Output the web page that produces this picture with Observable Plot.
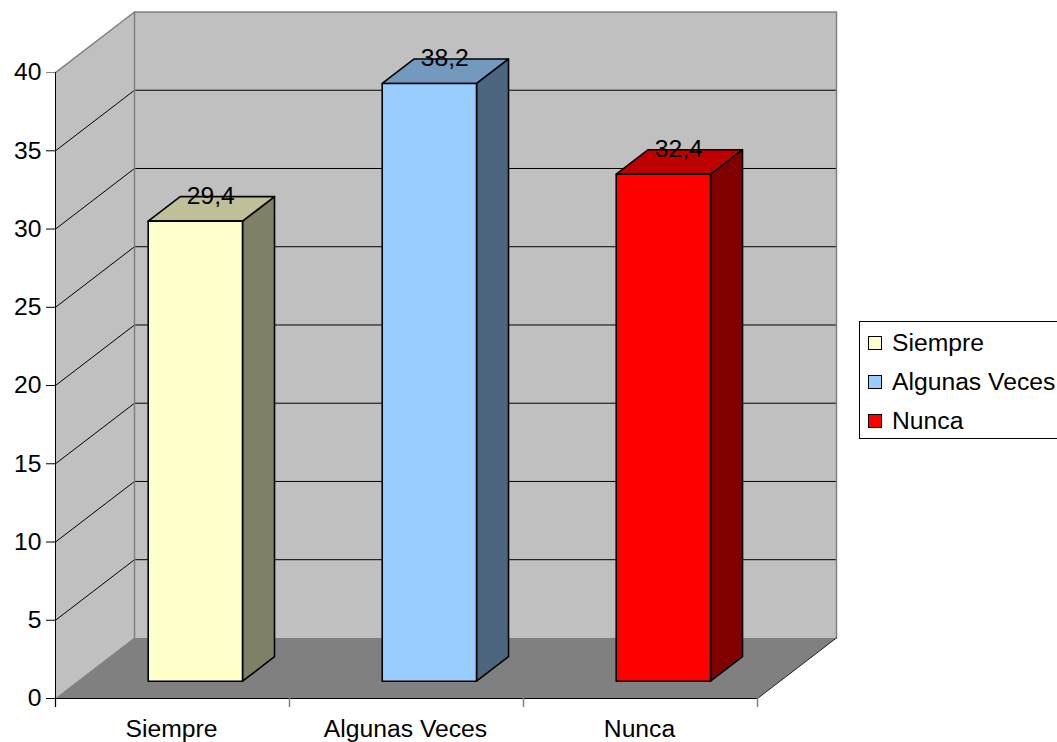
<!DOCTYPE html>
<html>
<head>
<meta charset="utf-8">
<script src="https://cdn.jsdelivr.net/npm/d3@7"></script>
<script src="https://cdn.jsdelivr.net/npm/@observablehq/plot@0.6"></script>
<style>
html,body{margin:0;padding:0;background:#fff;overflow:hidden;width:1057px;height:742px}
#wrap{position:relative;width:1057px;height:742px;overflow:hidden;font-family:"Liberation Sans",Arial,sans-serif;color:#000}
#wrap svg{display:block;position:absolute;left:0;top:0}
#legend{position:absolute;left:859px;top:321px;width:210px;height:116px;background:#fff;border:1px solid #000;box-sizing:content-box}
.row{position:absolute;left:8px;height:30px;line-height:30px;font-size:24.7px;white-space:nowrap}
.sw{position:absolute;left:0;top:8px;width:11.5px;height:11.5px;border:1.6px solid #000}
.lab{position:absolute;left:24px;top:0}
</style>
</head>
<body>
<div id="wrap"></div>
<script>
const categories = ["Siempre", "Algunas Veces", "Nunca"];
const values = [29.4, 38.2, 32.4];
const valueLabels = ["29,4", "38,2", "32,4"];
const frontColors = ["#ffffcc", "#99ccff", "#ff0000"];
const topColors = ["#bfbf99", "#7399bf", "#bf0000"];
const sideColors = ["#808066", "#4d6680", "#800000"];
const yTicks = [0, 5, 10, 15, 20, 25, 30, 35, 40];
const xEdges = [0, 1, 2, 3];
const xCenters = [0.5, 1.5, 2.5];

// oblique depth, in scale units
const depthX = 79 / 234, depthY = 3.87;
const yMax = 40, nCat = 3;
const d0 = 0.285, d1 = 0.69, barStart = 0.3, barWidth = 0.403;
const P = (c, v, d = 0) => ({x: c + d * depthX, y: v + d * depthY});
const fs = 24.7;

const wallFill = "#c0c0c0", floorFill = "#808080", edge = "#808080";
const poly = (pts, o) => Plot.line(pts, {x: "x", y: "y", curve: "linear-closed", ...o});
const seg = (pts, o) => Plot.line(pts, {x: "x", y: "y", ...o});

const marks = [
  // walls and floor
  poly([P(0, 0), P(0, yMax), P(0, yMax, 1), P(0, 0, 1)], {fill: wallFill, stroke: "none"}),
  poly([P(0, 0, 1), P(0, yMax, 1), P(nCat, yMax, 1), P(nCat, 0, 1)], {fill: wallFill, stroke: "none"}),
  poly([P(0, 0), P(0, 0, 1), P(nCat, 0, 1), P(nCat, 0)], {fill: floorFill, stroke: "none"}),
];

// grid lines
for (const v of yTicks.filter(t => t > 0 && t < yMax)) {
  marks.push(seg([P(0, v), P(0, v, 1), P(nCat, v, 1)], {stroke: "#000", strokeWidth: 1}));
}
// wall outlines
marks.push(
  seg([P(0, yMax), P(0, yMax, 1), P(nCat, yMax, 1), P(nCat, 0, 1)], {stroke: edge, strokeWidth: 1.5}),
  seg([P(0, yMax, 1), P(0, 0, 1)], {stroke: edge, strokeWidth: 1.5}),
  seg([P(0, 0), P(0, 0, 1)], {stroke: edge, strokeWidth: 1}),
  seg([P(nCat, 0), P(nCat, 0, 1)], {stroke: "#222", strokeWidth: 1}),
  seg([P(0, 0), P(0, yMax)], {stroke: "#000", strokeWidth: 1}),
  seg([P(0, 0), P(nCat, 0)], {stroke: "#000", strokeWidth: 1.2})
);

// bars
categories.forEach((name, i) => {
  const a = i + barStart, b = a + barWidth, v = values[i];
  const st = {stroke: "#000", strokeWidth: 1.6};
  marks.push(
    poly([P(b, 0, d0), P(b, v, d0), P(b, v, d1), P(b, 0, d1)], {fill: sideColors[i], ...st}),
    poly([P(a, v, d0), P(a, v, d1), P(b, v, d1), P(b, v, d0)], {fill: topColors[i], ...st}),
    poly([P(a, 0, d0), P(a, v, d0), P(b, v, d0), P(b, 0, d0)], {fill: frontColors[i], ...st})
  );
});

// axes
marks.push(
  Plot.axisY({ticks: yTicks.filter(t => t < yMax), tickSize: 9, tickPadding: 5, fontSize: fs, label: null, stroke: "#000", tickFormat: d => d}),
  Plot.axisY({ticks: [yMax], tickSize: 9, tickPadding: 5, fontSize: fs, label: null, stroke: edge, fill: "#000", tickFormat: d => d}),
  Plot.axisX({ticks: xEdges, tickSize: 9, tickFormat: () => "", label: null, stroke: edge, strokeWidth: 1.5}),
  Plot.axisX({ticks: [xEdges[0]], tickSize: 9, tickFormat: () => "", label: null, stroke: "#000"}),
  Plot.axisX({ticks: xCenters, tickSize: 0, tickPadding: 21, fontSize: fs, label: null, fill: "#000", dx: -1, tickFormat: d => categories[xCenters.indexOf(d)]})
);

// value labels
marks.push(
  Plot.text(categories, {
    x: (_, i) => P(i + barStart + barWidth / 2, 0, 0.48).x,
    y: (_, i) => P(0, values[i], d1).y,
    text: (_, i) => valueLabels[i],
    fontSize: fs,
    fill: "#000",
    textAnchor: "middle",
    dy: -1
  })
);

const chart = Plot.plot({
  width: 1057,
  height: 742,
  marginLeft: 55,
  marginRight: 221,
  marginTop: 11.5,
  marginBottom: 44,
  style: {background: "transparent", fontFamily: "'Liberation Sans', Arial, sans-serif", fontSize: "24px", color: "#000"},
  x: {type: "linear", domain: [0, nCat + depthX]},
  y: {type: "linear", domain: [0, yMax + depthY]},
  marks
});

const wrap = document.getElementById("wrap");
wrap.appendChild(chart);

// legend
const legend = document.createElement("div");
legend.id = "legend";
const tops = [6, 45, 84];
categories.forEach((name, i) => {
  const row = document.createElement("div");
  row.className = "row";
  row.style.top = tops[i] + "px";
  const sw = document.createElement("div");
  sw.className = "sw";
  sw.style.background = frontColors[i];
  const lab = document.createElement("span");
  lab.className = "lab";
  lab.textContent = name;
  row.append(sw, lab);
  legend.appendChild(row);
});
wrap.appendChild(legend);
</script>
</body>
</html>
